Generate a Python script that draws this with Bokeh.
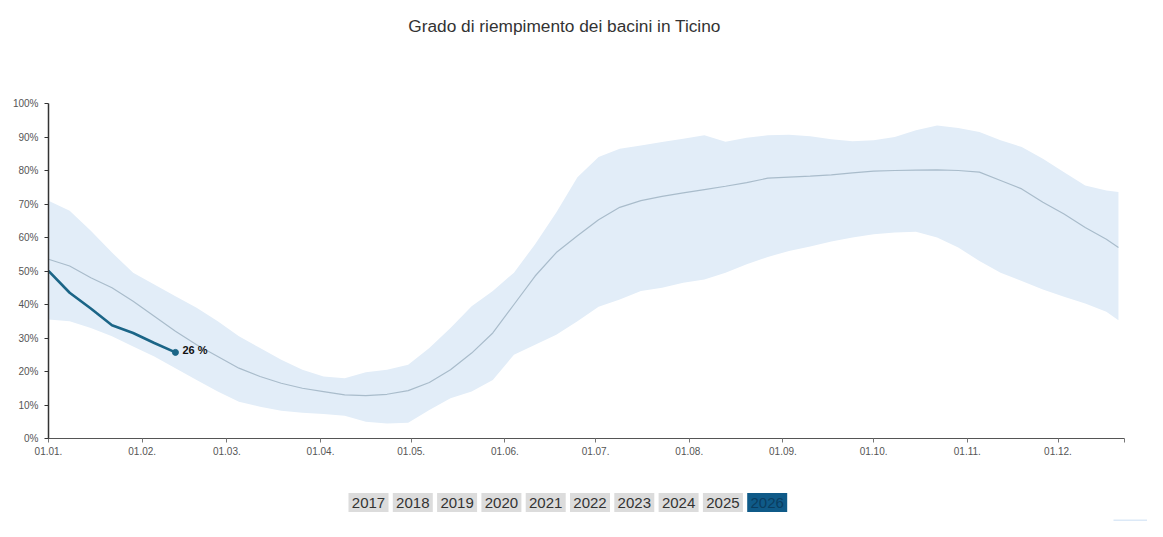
from bokeh.plotting import figure
from bokeh.layouts import column
from bokeh.models import Range1d, FixedTicker, ColumnDataSource
from bokeh.core.properties import value
from bokeh.embed import file_html
from bokeh.resources import INLINE

TITLE = "Grado di riempimento dei bacini in Ticino"
FONT = "Liberation Sans"

# day of year for each weekly sample
days = [0, 7, 14, 21, 28, 35, 42, 49, 56, 63, 70, 77, 84, 91, 98, 105, 112, 119,
        126, 133, 140, 147, 154, 161, 168, 175, 182, 189, 196, 203, 210, 217, 224,
        231, 238, 245, 252, 259, 266, 273, 280, 287, 294, 301, 308, 315, 322, 329,
        336, 343, 350, 354]

band_max = [71, 68, 62, 55.5, 49.5, 46, 42.5, 39, 35, 30.5, 27, 23.5, 20.5, 18.5,
            18, 19.8, 20.5, 22, 27, 33, 39.5, 44, 49.5, 58, 67.5, 78, 84, 86.5,
            87.5, 88.5, 89.5, 90.5, 88.6, 89.8, 90.5, 90.7, 90.2, 89.3, 88.7, 89,
            90, 92, 93.4, 92.7, 91.5, 89, 87, 83.5, 79.5, 75.5, 74, 73.6]

band_min = [35.5, 35, 33, 30.5, 27.5, 24.5, 21, 17.5, 14, 11, 9.5, 8.3, 7.7, 7.3,
            6.8, 5, 4.5, 4.7, 8.5, 12, 14, 17.5, 25, 28, 31, 35, 39.3, 41.5, 44,
            45, 46.5, 47.5, 49.5, 52, 54.2, 56, 57.3, 58.8, 60, 61, 61.5, 61.7, 60,
            57, 53, 49.5, 47, 44.5, 42.3, 40.3, 37.8, 35.3]

median = [53.5, 51.5, 48, 45, 41, 36.5, 32, 28, 24.5, 21, 18.5, 16.5, 15, 14, 13,
          12.8, 13.2, 14.3, 16.7, 20.5, 25.5, 31.5, 40, 48.5, 55.5, 60.5, 65.3,
          69, 71, 72.3, 73.3, 74.3, 75.3, 76.4, 77.7, 78, 78.3, 78.7, 79.3, 79.8,
          80, 80.1, 80.2, 80, 79.5, 77, 74.5, 70.5, 67, 63, 59.5, 57]

days_2026 = [0, 7, 14, 21, 28, 35, 42]
fill_2026 = [50, 43.5, 38.8, 33.8, 31.5, 28.5, 25.7]

month_days = [0, 31, 59, 90, 120, 151, 181, 212, 243, 273, 304, 334]
month_labels = ["01.01.", "01.02.", "01.03.", "01.04.", "01.05.", "01.06.",
                "01.07.", "01.08.", "01.09.", "01.10.", "01.11.", "01.12."]
y_ticks = [0, 10, 20, 30, 40, 50, 60, 70, 80, 90, 100]

years = ["2017", "2018", "2019", "2020", "2021", "2022", "2023", "2024", "2025", "2026"]
active_year = "2026"

W = 1147
H_TITLE = 93
H_CHART = 385
H_BTN = 43

# ---- title strip ----
pt = figure(width=W, height=H_TITLE, output_backend="svg", toolbar_location=None,
            x_range=Range1d(0, W), y_range=Range1d(H_TITLE, 0),
            min_border=0, outline_line_color=None)
pt.frame_align = False
pt.axis.visible = False
pt.grid.visible = False
pt.text(x=[564], y=[25], text=[TITLE], text_align="center",
        text_baseline="middle", text_font=value(FONT), text_font_size="17.3px",
        text_color="#333333")

# ---- main chart ----
p = figure(width=W, height=H_CHART, output_backend="svg", toolbar_location=None,
           x_range=Range1d(0, 356), y_range=Range1d(0, 100),
           min_border_left=48, min_border_right=23, min_border_top=10,
           min_border_bottom=40, outline_line_color=None)
p.grid.visible = False

src = ColumnDataSource(dict(day=days, lo=band_min, hi=band_max, med=median))
p.varea(x="day", y1="lo", y2="hi", source=src, fill_color="#e2edf8", fill_alpha=1)
p.line(x="day", y="med", source=src, line_color="#a9bccb", line_width=1.2)

src26 = ColumnDataSource(dict(day=days_2026, v=fill_2026))
p.line(x="day", y="v", source=src26, line_color="#1b6587", line_width=2.6)
p.scatter(x=[days_2026[-1]], y=[fill_2026[-1]], size=6, fill_color="#1b6587",
          line_color="#1b6587")
p.text(x=[days_2026[-1]], y=[fill_2026[-1]], text=[f"{round(fill_2026[-1])} %"],
       x_offset=7, y_offset=-2, text_baseline="middle", text_font=value(FONT),
       text_font_size="11px", text_font_style="bold", text_color="#111111")

xt = month_days + [356]
p.xaxis.ticker = FixedTicker(ticks=xt)
ov = {d: l for d, l in zip(month_days, month_labels)}
ov[356] = ""
p.xaxis.major_label_overrides = ov
p.yaxis.ticker = FixedTicker(ticks=y_ticks)
p.yaxis.major_label_overrides = {t: f"{t}%" for t in y_ticks}

for ax in (p.xaxis, p.yaxis):
    ax.minor_tick_line_color = None
    ax.major_label_text_font = FONT
    ax.major_label_text_font_size = "10px"
    ax.major_label_text_color = "#555555"
    ax.major_tick_in = 0
    ax.major_tick_out = 4
    ax.major_label_standoff = 4
p.yaxis.major_label_standoff = 6

p.xaxis.axis_line_color = "#555555"
p.xaxis.major_tick_line_color = "#777777"
p.yaxis.axis_line_color = "#333333"
p.yaxis.axis_line_width = 1.5
p.yaxis.major_tick_line_color = "#333333"

# ---- year buttons ----
pb = figure(width=W, height=H_BTN, output_backend="svg", toolbar_location=None,
            x_range=Range1d(0, W), y_range=Range1d(H_BTN, 0),
            min_border=0, outline_line_color=None)
pb.frame_align = False
pb.axis.visible = False
pb.grid.visible = False
bx = [368 + 44.3 * i for i in range(len(years))]
bfill = ["#0f5a88" if y == active_year else "#dcdcdc" for y in years]
btext = ["#0a3d60" if y == active_year else "#333333" for y in years]
bsrc = ColumnDataSource(dict(x=bx, y=[24] * len(years), t=years, f=bfill, c=btext))
pb.rect(x="x", y="y", width=40, height=19, source=bsrc, fill_color="f",
        line_color=None)
pb.text(x="x", y="y", text="t", source=bsrc, text_align="center",
        text_baseline="middle", text_font=value(FONT), text_font_size="15px",
        text_color="c")
# partial legend swatch at bottom right (cut off by the page edge)
pb.quad(left=[1113], right=[1150], top=[41], bottom=[43], fill_color="#dce9f7",
        line_color=None)

layout = column(pt, p, pb, spacing=0)
open("out.html", "w").write(file_html(layout, INLINE))
